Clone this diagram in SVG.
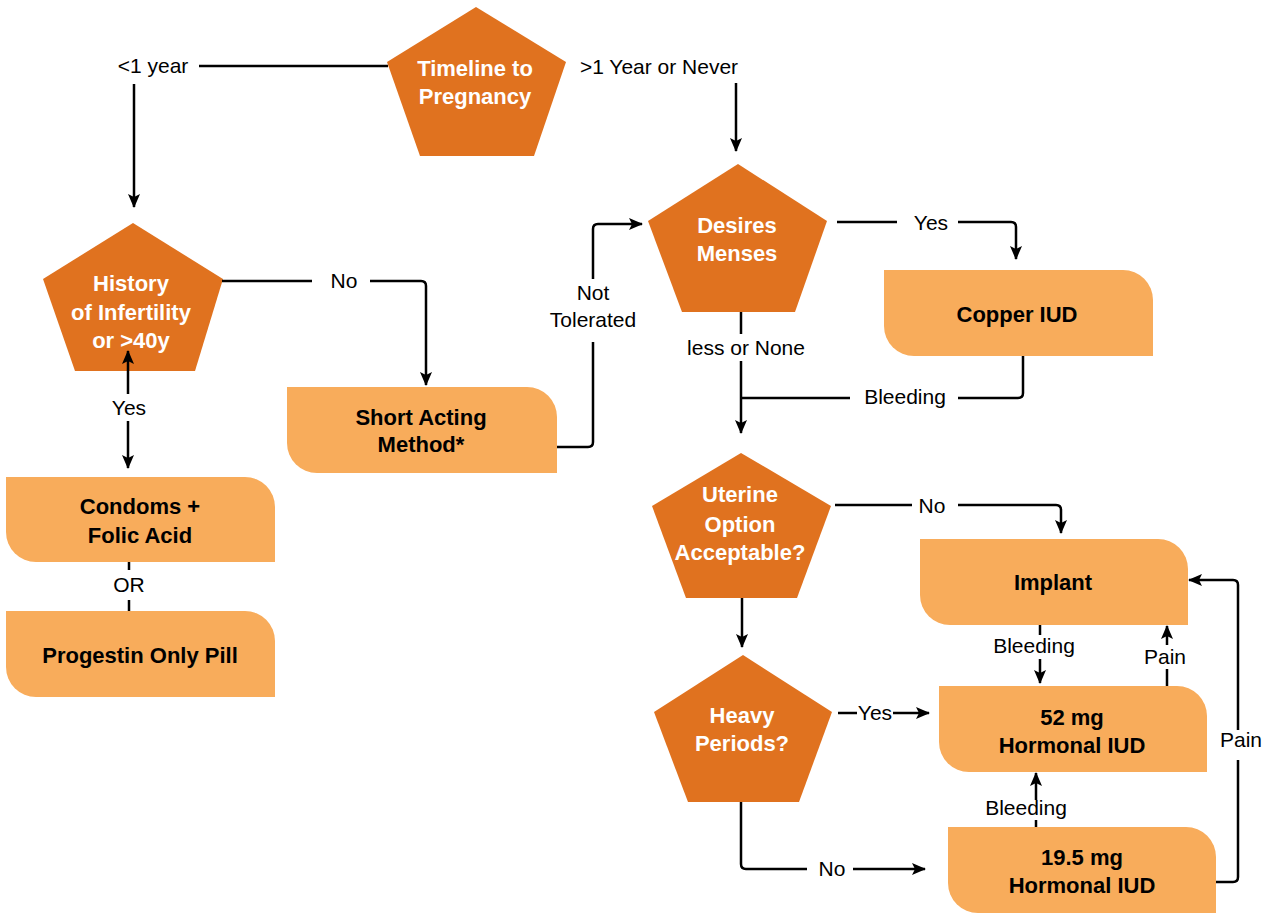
<svg xmlns="http://www.w3.org/2000/svg" width="1272" height="913" viewBox="0 0 1272 913">
<defs>
<style>
.dec{fill:#E0721F;}
.opt{fill:#F8AC5B;}
.wt{font-family:"Liberation Sans",Arial,sans-serif;font-weight:bold;font-size:22px;fill:#ffffff;text-anchor:middle;}
.bt{font-family:"Liberation Sans",Arial,sans-serif;font-weight:bold;font-size:22px;fill:#000000;text-anchor:middle;}
.lb{font-family:"Liberation Sans",Arial,sans-serif;font-size:21px;fill:#000000;text-anchor:middle;}
.cn{fill:none;stroke:#000000;stroke-width:2.5;}
.ar{marker-end:url(#ah);}
</style>
<marker id="ah" viewBox="0 0 14 12" refX="13" refY="6" markerWidth="14" markerHeight="12" orient="auto" markerUnits="userSpaceOnUse">
<path d="M0,0 L14,6 L0,12 L3,6 Z" fill="#000000"/>
</marker>
</defs>
<rect width="1272" height="913" fill="#ffffff"/>

<g id="timeline">
<polygon class="dec" points="476,7 566,62 534,156 420,156 387,62"/>
<text class="wt" x="475" y="76">Timeline to</text>
<text class="wt" x="475" y="104">Pregnancy</text>
</g>

<g id="history">
<polygon class="dec" points="133,223 223,279 195,371 75,371 43,279"/>
<text class="wt" x="131" y="291">History</text>
<text class="wt" x="131" y="320">of Infertility</text>
<text class="wt" x="131" y="348">or &gt;40y</text>
</g>

<g id="desires">
<polygon class="dec" points="738,164 827,221 795,312 682,312 648,221"/>
<text class="wt" x="737" y="233">Desires</text>
<text class="wt" x="737" y="261">Menses</text>
</g>

<g id="uterine">
<polygon class="dec" points="741,453 831,506 797,598 686,598 652,506"/>
<text class="wt" x="740" y="502">Uterine</text>
<text class="wt" x="740" y="532">Option</text>
<text class="wt" x="740" y="560">Acceptable?</text>
</g>

<g id="heavy">
<polygon class="dec" points="743,655 832,712 799,802 688,802 654,712"/>
<text class="wt" x="742" y="723">Heavy</text>
<text class="wt" x="742" y="751">Periods?</text>
</g>

<g id="short-acting">
<path class="opt" d="M287,387 H527 A30,30 0 0 1 557,417 V473 H317 A30,30 0 0 1 287,443 Z"/>
<text class="bt" x="421" y="425">Short Acting</text>
<text class="bt" x="421" y="452">Method*</text>
</g>

<g id="condoms">
<path class="opt" d="M6,477 H245 A30,30 0 0 1 275,507 V562 H36 A30,30 0 0 1 6,532 Z"/>
<text class="bt" x="140" y="514">Condoms +</text>
<text class="bt" x="140" y="543">Folic Acid</text>
</g>

<g id="progestin">
<path class="opt" d="M6,611 H245 A30,30 0 0 1 275,641 V697 H36 A30,30 0 0 1 6,667 Z"/>
<text class="bt" x="140" y="663">Progestin Only Pill</text>
</g>

<g id="copper">
<path class="opt" d="M884,270 H1123 A30,30 0 0 1 1153,300 V356 H914 A30,30 0 0 1 884,326 Z"/>
<text class="bt" x="1017" y="322">Copper IUD</text>
</g>

<g id="implant">
<path class="opt" d="M920,539 H1158 A30,30 0 0 1 1188,569 V625 H950 A30,30 0 0 1 920,595 Z"/>
<text class="bt" x="1053" y="590">Implant</text>
</g>

<g id="iud52">
<path class="opt" d="M939,686 H1177 A30,30 0 0 1 1207,716 V772 H969 A30,30 0 0 1 939,742 Z"/>
<text class="bt" x="1072" y="725">52 mg</text>
<text class="bt" x="1072" y="753">Hormonal IUD</text>
</g>

<g id="iud195">
<path class="opt" d="M948,827 H1186 A30,30 0 0 1 1216,857 V913 H978 A30,30 0 0 1 948,883 Z"/>
<text class="bt" x="1082" y="865">19.5 mg</text>
<text class="bt" x="1082" y="893">Hormonal IUD</text>
</g>

<g id="connectors">
<path class="cn" d="M199,66 H388"/>
<path class="cn ar" d="M134,84 V207"/>
<path class="cn ar" d="M736,83 V151"/>
<path class="cn" d="M222,281 H312"/>
<path class="cn ar" d="M370,281 H421 Q426,281 426,286 V385"/>
<path class="cn ar" d="M128,394 V351"/>
<path class="cn ar" d="M128,421 V468"/>
<path class="cn" d="M129,562 V570"/>
<path class="cn" d="M129,600 V611"/>
<path class="cn" d="M557,447 H588 Q593,447 593,442 V342"/>
<path class="cn ar" d="M593,279 V229 Q593,224 598,224 H642"/>
<path class="cn" d="M837,222 H897"/>
<path class="cn ar" d="M958,222 H1011 Q1016,222 1016,227 V259"/>
<path class="cn" d="M741,312 V334"/>
<path class="cn ar" d="M741,361 V433"/>
<path class="cn" d="M1023,356 V393 Q1023,398 1018,398 H958"/>
<path class="cn" d="M850,398 H741"/>
<path class="cn" d="M835,505 H912"/>
<path class="cn ar" d="M958,505 H1056 Q1061,505 1061,510 V533"/>
<path class="cn ar" d="M742,598 V647"/>
<path class="cn" d="M838,713 H857"/>
<path class="cn ar" d="M893,713 H929"/>
<path class="cn" d="M741,802 V864 Q741,869 746,869 H807"/>
<path class="cn ar" d="M853,869 H925"/>
<path class="cn" d="M1040,625 V635"/>
<path class="cn ar" d="M1040,659 V683"/>
<path class="cn" d="M1167,686 V669"/>
<path class="cn ar" d="M1167,645 V626"/>
<path class="cn" d="M1036,827 V820"/>
<path class="cn ar" d="M1036,800 V773"/>
<path class="cn" d="M1216,882 H1233 Q1238,882 1238,877 V760"/>
<path class="cn ar" d="M1238,730 V585 Q1238,580 1233,580 H1189"/>
</g>

<g id="labels">
<text class="lb" x="153" y="73">&lt;1 year</text>
<text class="lb" x="659" y="74">&gt;1 Year or Never</text>
<text class="lb" x="344" y="288">No</text>
<text class="lb" x="129" y="415">Yes</text>
<text class="lb" x="129" y="592">OR</text>
<text class="lb" x="593" y="300">Not</text>
<text class="lb" x="593" y="327">Tolerated</text>
<text class="lb" x="931" y="230">Yes</text>
<text class="lb" x="746" y="355">less or None</text>
<text class="lb" x="905" y="404">Bleeding</text>
<text class="lb" x="932" y="513">No</text>
<text class="lb" x="875" y="720">Yes</text>
<text class="lb" x="832" y="876">No</text>
<text class="lb" x="1034" y="653">Bleeding</text>
<text class="lb" x="1165" y="664">Pain</text>
<text class="lb" x="1026" y="815">Bleeding</text>
<text class="lb" x="1241" y="747">Pain</text>
</g>
</svg>
